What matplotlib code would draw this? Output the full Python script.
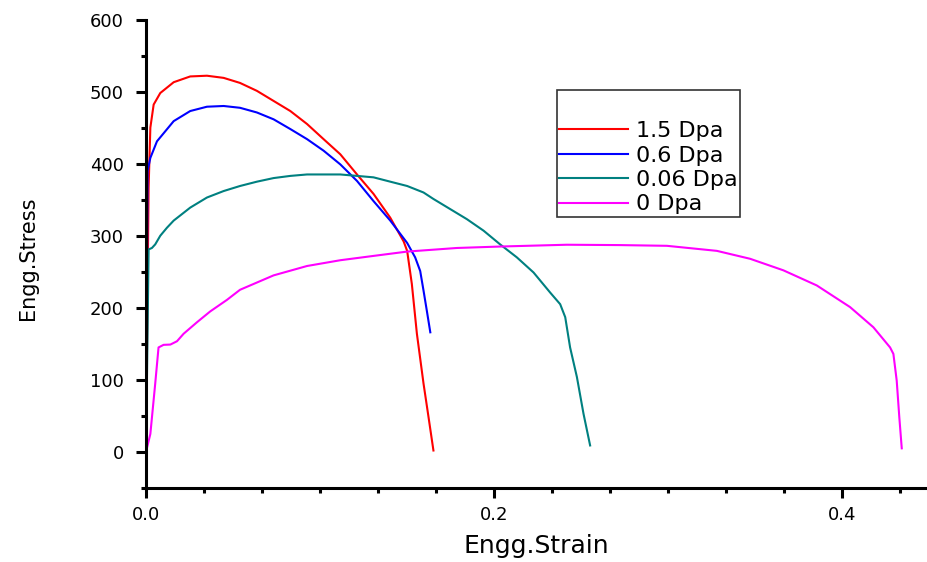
import matplotlib
matplotlib.use("Agg")
import matplotlib.pyplot as plt
from matplotlib.ticker import MultipleLocator

plt.rcParams['font.family'] = ['DejaVu Sans']

# stress-strain curves for each irradiation dose
strain_15 = [0.0, 0.0010, 0.0015, 0.0025, 0.0044, 0.0082, 0.0159, 0.0254, 0.035, 0.0446,
             0.054, 0.0637, 0.0733, 0.0829, 0.0925, 0.102, 0.1116, 0.1212, 0.1307, 0.1403,
             0.148, 0.150, 0.1527, 0.1556, 0.1594, 0.1623, 0.1651]
stress_15 = [0, 250, 367, 450, 482, 498, 513, 521, 522, 519,
             512, 501, 487, 473, 455, 434, 413, 385, 358, 325,
             292, 279, 233, 164, 95, 48, 2]

strain_06 = [0.0, 0.0005, 0.0009, 0.0025, 0.0063, 0.0159, 0.0254, 0.035, 0.0446, 0.054,
             0.0637, 0.0733, 0.0829, 0.0925, 0.102, 0.1116, 0.1212, 0.1307, 0.1403, 0.150,
             0.1546, 0.1575, 0.1594, 0.1613, 0.1633]
stress_06 = [0, 200, 390, 408, 431, 459, 473, 479, 480, 477.5,
             471, 461.5, 448, 434, 418, 399, 376, 348, 321, 290,
             270, 251, 224, 196, 166]

strain_006 = [0.0, 0.0008, 0.0015, 0.0034, 0.0053, 0.0082, 0.012, 0.0159, 0.0254, 0.035,
              0.0446, 0.054, 0.0637, 0.0733, 0.0829, 0.0925, 0.102, 0.1116, 0.1212, 0.1307,
              0.1403, 0.150, 0.1594, 0.1651, 0.1843, 0.1939, 0.2034, 0.213, 0.2226, 0.2322,
              0.2379, 0.2408, 0.2436, 0.2475, 0.2513, 0.2551]
stress_006 = [0, 150, 281, 283, 288, 300, 311, 321, 339, 353,
              362, 369, 375, 380, 383, 385, 385, 385, 383, 381,
              375, 369, 360, 351, 323, 307, 288, 270, 249, 221,
              205, 187, 145, 104, 53, 9]

strain_0 = [0.0, 0.0025, 0.0053, 0.0072, 0.0101, 0.014, 0.0178, 0.0216, 0.0293, 0.0369,
            0.0465, 0.054, 0.0733, 0.0925, 0.1116, 0.1307, 0.150, 0.1786, 0.2034, 0.2417,
            0.2723, 0.2992, 0.3279, 0.347, 0.3661, 0.3853, 0.4044, 0.4178, 0.4274, 0.4293,
            0.4312, 0.4327, 0.4341]
stress_0 = [0, 25, 95, 145, 148.6, 149, 153.6, 164, 180, 195,
            211, 225, 245, 258, 266, 272, 278, 283, 285, 287.5,
            287, 286, 279, 268, 252, 231, 201, 173, 145, 136,
            99, 48, 5]

fig = plt.figure(figsize=(9.27, 5.62), dpi=100)
ax = fig.add_axes([0.1575, 0.1317, 0.8425, 0.8336])

ax.plot(strain_15, stress_15, color='#ff0000', lw=1.5, label='1.5 Dpa')
ax.plot(strain_06, stress_06, color='#0000ff', lw=1.5, label='0.6 Dpa')
ax.plot(strain_006, stress_006, color='#008080', lw=1.5, label='0.06 Dpa')
ax.plot(strain_0, stress_0, color='#ff00ff', lw=1.5, label='0 Dpa')

ax.set_xlim(0, 0.4486)
ax.set_ylim(-50, 600)
ax.xaxis.set_major_locator(MultipleLocator(0.2))
ax.xaxis.set_minor_locator(MultipleLocator(0.2 / 6))
ax.yaxis.set_major_locator(MultipleLocator(100))
ax.yaxis.set_minor_locator(MultipleLocator(50))
ax.xaxis.set_major_formatter(plt.FuncFormatter(lambda v, p: f"{v:.1f}"))

for s in ['top', 'right']:
    ax.spines[s].set_visible(False)
for s in ['left', 'bottom']:
    ax.spines[s].set_linewidth(2.2)

ax.tick_params(which='major', direction='out', length=7, width=2.2, labelsize=13)
ax.tick_params(axis='y', which='major', pad=9)
ax.tick_params(axis='x', which='major', pad=6)
ax.tick_params(which='minor', direction='out', length=3.5, width=2.2)

ax.set_xlabel('Engg.Strain', fontsize=18, labelpad=7)
ax.set_ylabel('Engg.Stress', fontsize=15)
ax.yaxis.set_label_coords(-0.138, 0.49)

leg = ax.legend(loc='upper left', bbox_to_anchor=(0.526, 0.8495), title=' ',
                fontsize=16, title_fontsize=17.5, fancybox=False, frameon=True,
                edgecolor='black', handlelength=3.1, handletextpad=0.35,
                labelspacing=0.2, borderpad=0.12, borderaxespad=0)
leg.get_frame().set_linewidth(1.2)

fig.savefig('out.png', dpi=100)
